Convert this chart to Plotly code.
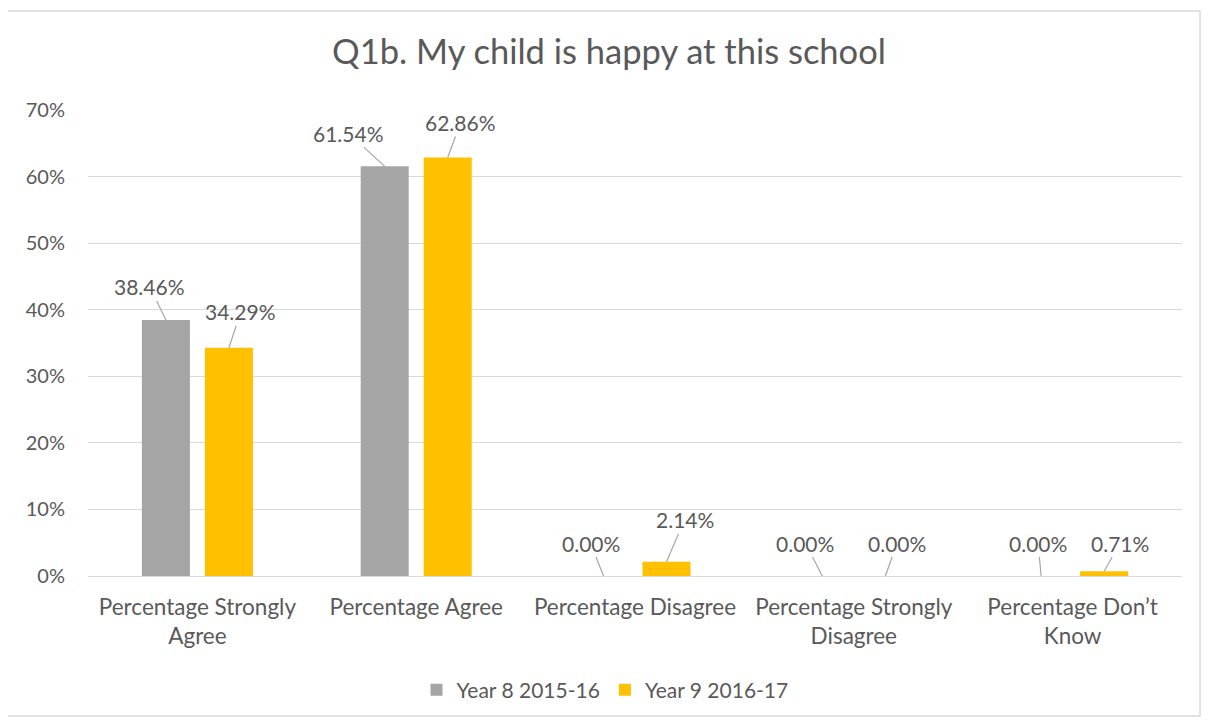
import plotly.graph_objects as go

categories = ["Percentage Strongly<br>Agree", "Percentage Agree", "Percentage Disagree",
              "Percentage Strongly<br>Disagree", "Percentage Don’t<br>Know"]
year8 = [38.46, 61.54, 0.00, 0.00, 0.00]
year9 = [34.29, 62.86, 2.14, 0.00, 0.71]
series_names = ["Year 8 2015-16", "Year 9 2016-17"]
colors = ["#a5a5a5", "#ffc000"]

# label offsets (pixels) for the leader-line data labels
off8 = [(-16, -33), (-36, -33), (-13, -33), (-17, -33), (-3, -33)]
off9 = [(12, -36), (13, -35), (18, -42), (12, -33), (16, -28)]

FONT = "Lato, 'Open Sans', sans-serif"
TXT = "#595959"

fig = go.Figure()
for name, vals, col in zip(series_names, [year8, year9], colors):
    fig.add_trace(go.Bar(x=categories, y=vals, name=name, marker_color=col,
                         marker_line_width=0, hoverinfo="skip"))

annotations = []
for vals, offs, shift in [(year8, off8, -31.5), (year9, off9, 31.5)]:
    for c, v, (ax, ay) in zip(categories, vals, offs):
        annotations.append(dict(
            x=c, y=v, xref="x", yref="y", text=f"{v:.2f}%", xshift=shift,
            showarrow=True, arrowhead=0, arrowwidth=1.2, arrowcolor="#a6a6a6",
            ax=ax, ay=ay, font=dict(family=FONT, size=21, color=TXT),
            standoff=0, startstandoff=0))

fig.update_layout(
    width=1209, height=722,
    margin=dict(l=80, r=35, t=102, b=154, autoexpand=False),
    paper_bgcolor="white", plot_bgcolor="white",
    barmode="group", bargap=0.424, bargroupgap=0.238,
    font=dict(family=FONT, color=TXT, size=21),
    title=dict(text="Q1b. My child is happy at this school", x=601 / 1209, xanchor="center",
               y=1 - 44 / 722, yanchor="middle", yref="container",
               font=dict(family=FONT, size=34.5, color=TXT)),
    legend=dict(orientation="h", x=0.4726, xanchor="center", y=-0.245, yanchor="middle",
                font=dict(family=FONT, size=21, color=TXT), itemwidth=30,
                traceorder="normal"),
    annotations=annotations,
    shapes=[dict(type="rect", xref="paper", yref="paper", x0=-0.074, x1=1.0165,
                 y0=-0.3004, y1=1.2124, line=dict(color="#d9d9d9", width=1.5), layer="below")],
)
fig.update_yaxes(range=[0, 70], dtick=10, ticksuffix="%", showgrid=True, gridcolor="#d9d9d9",
                 gridwidth=1.3, zeroline=False, showline=False, ticks="", ticklen=0,
                 ticklabelstandoff=22,
                 tickfont=dict(family=FONT, size=20, color=TXT))
fig.update_xaxes(showline=True, linecolor="#d9d9d9", linewidth=1.3, ticks="",
                 ticklabelstandoff=11,
                 tickfont=dict(family=FONT, size=22.5, color=TXT))

fig.write_html("out.html")
